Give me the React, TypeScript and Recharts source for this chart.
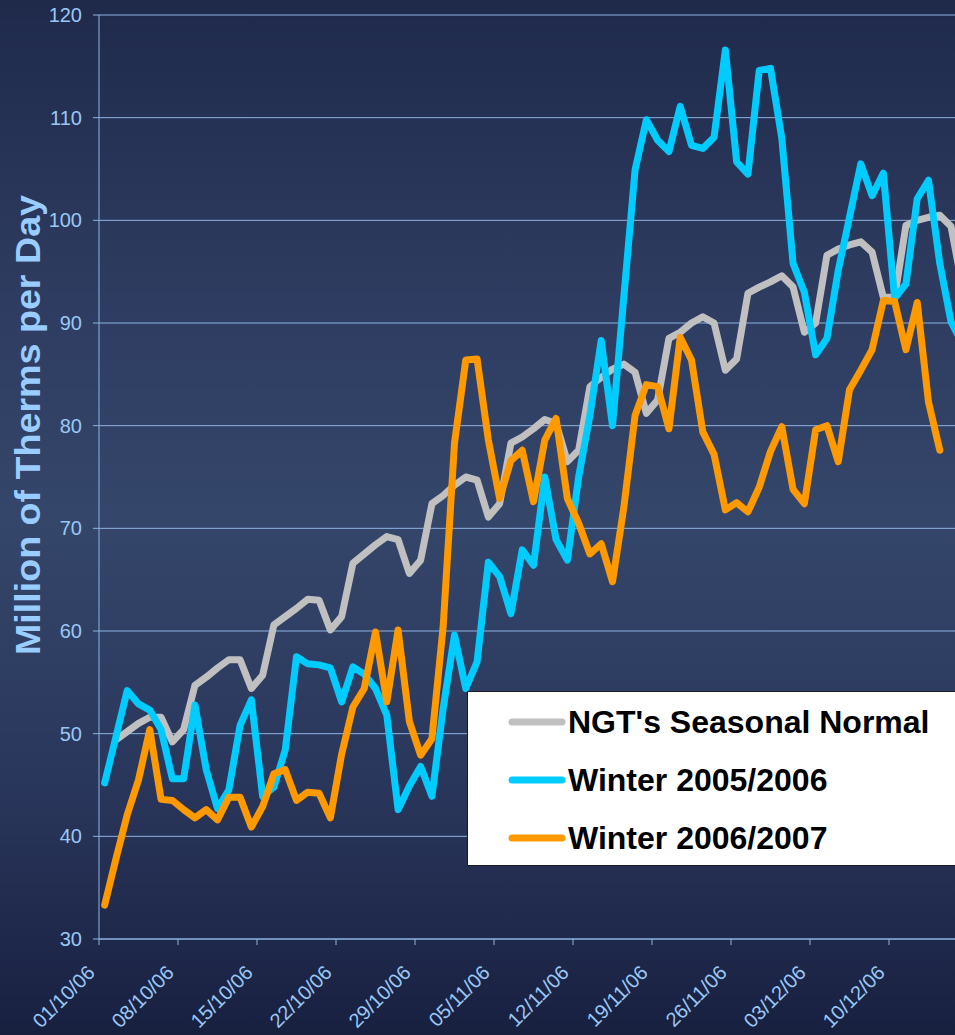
import { LineChart, Line, XAxis, YAxis, CartesianGrid, Legend } from 'recharts';

// tick labels, one per week, first one on the left edge of the axis
const DATE_LABELS = [
  '01/10/06', '08/10/06', '15/10/06', '22/10/06', '29/10/06', '05/11/06',
  '12/11/06', '19/11/06', '26/11/06', '03/12/06', '10/12/06',
];

const Y_TICKS = [30, 40, 50, 60, 70, 80, 90, 100, 110, 120];

// million therms per day, one value per day from 01/10
const SEASONAL_NORMAL: (number | null)[] = [
  null, 49.4, 50.2, 51.0, 51.6, 51.6, 49.2, 50.4, 54.7, 55.5,
  56.4, 57.2, 57.2, 54.4, 55.7, 60.6, 61.4, 62.2, 63.1, 63.0,
  60.1, 61.4, 66.6, 67.5, 68.4, 69.2, 68.9, 65.6, 66.9, 72.4,
  73.2, 74.2, 75.0, 74.7, 71.1, 72.4, 78.3, 78.9, 79.7, 80.6,
  80.2, 76.5, 77.6, 83.8, 84.7, 85.5, 86.0, 85.2, 81.2, 82.5,
  88.5, 89.1, 90.0, 90.6, 90.0, 85.4, 86.5, 92.9, 93.5, 94.0,
  94.6, 93.5, 89.1, 90.0, 96.6, 97.2, 97.6, 97.9, 96.9, 92.5,
  92.5, 99.5, 100.0, 100.3, 100.5, 99.4, 93.5,
];

const WINTER_0506: (number | null)[] = [
  45.2, 49.7, 54.2, 52.9, 52.3, 50.4, 45.6, 45.6, 52.8, 46.5,
  42.7, 44.5, 50.8, 53.3, 43.9, 44.8, 48.4, 57.5, 56.8, 56.7,
  56.4, 53.1, 56.5, 55.8, 54.4, 51.8, 42.6, 44.9, 46.8, 43.9,
  52.5, 59.6, 54.4, 57.0, 66.7, 65.3, 61.7, 67.9, 66.4, 75.0,
  68.9, 66.9, 75.0, 81.0, 88.3, 80.0, 92.5, 104.9, 109.8, 107.8,
  106.7, 111.1, 107.3, 107.0, 108.1, 116.6, 105.7, 104.5, 114.6, 114.8,
  108.0, 95.8, 93.0, 86.9, 88.5, 95.1, 100.3, 105.5, 102.4, 104.6,
  92.4, 93.8, 102.1, 103.9, 95.8, 90.1, 88.0,
];

const WINTER_0607: (number | null)[] = [
  33.3, 37.8, 42.1, 45.5, 50.4, 43.6, 43.5, 42.6, 41.8, 42.6,
  41.6, 43.8, 43.8, 40.9, 42.9, 46.1, 46.5, 43.5, 44.3, 44.2,
  41.8, 48.0, 52.6, 54.4, 59.9, 53.1, 60.1, 51.2, 47.9, 49.5,
  60.5, 78.3, 86.4, 86.5, 78.6, 72.9, 76.6, 77.6, 72.6, 78.6,
  80.7, 72.9, 70.5, 67.5, 68.5, 64.8, 72.0, 81.0, 84.0, 83.8,
  79.7, 88.6, 86.4, 79.4, 77.2, 71.8, 72.5, 71.6, 74.0, 77.5,
  79.9, 73.8, 72.4, 79.6, 80.0, 76.5, 83.5, 85.4, 87.4, 92.2,
  92.1, 87.4, 92.0, 82.3, 77.6,
];

const SERIES = [
  { key: 'normal', name: "NGT's Seasonal Normal", color: '#c0c0c0' },
  { key: 'w0506', name: 'Winter 2005/2006', color: '#00ccff' },
  { key: 'w0607', name: 'Winter 2006/2007', color: '#ff9900' },
];

const AXIS_COLOR = '#8db4e2';
const TEXT_COLOR = '#99c8f5';
const FONT = '"Liberation Sans", Arial, sans-serif';

const chartData = SEASONAL_NORMAL.map((_, day) => ({
  day,
  normal: SEASONAL_NORMAL[day] ?? null,
  w0506: WINTER_0506[day] ?? null,
  w0607: WINTER_0607[day] ?? null,
}));

// axis ticks sit between day slots, like Excel's date axis
const xTicks = DATE_LABELS.map((_, k) => k * 7 - 0.5);

function DateTick(props: any) {
  const { x, y, payload } = props;
  const label = DATE_LABELS[Math.round((payload.value + 0.5) / 7)];
  const tx = x - 3;
  const ty = y + 27;
  return (
    <text
      x={tx}
      y={ty}
      transform={`rotate(-45 ${tx} ${ty})`}
      textAnchor="end"
      fill={TEXT_COLOR}
      fontSize={20}
      fontFamily={FONT}
    >
      {label}
    </text>
  );
}

function AxisTitle() {
  return (
    <text
      x={40}
      y={425}
      transform="rotate(-90 40 425)"
      textAnchor="middle"
      fill="#99ccff"
      fontSize={35}
      fontWeight="bold"
      fontFamily={FONT}
      textLength={460}
      lengthAdjust="spacingAndGlyphs"
    >
      Million of Therms per Day
    </text>
  );
}

function LegendBox(props: any) {
  const items = props.payload || [];
  return (
    <div
      style={{
        width: 520,
        height: 175,
        background: '#ffffff',
        border: '1.5px solid #1a1a1a',
        boxSizing: 'border-box',
        paddingTop: 1,
      }}
    >
      {items.map((item: any) => (
        <div
          key={item.value}
          style={{ display: 'flex', alignItems: 'center', height: 58 }}
        >
          <svg width={60} height={10} style={{ marginLeft: 39 }}>
            <line
              x1={5}
              y1={5}
              x2={55}
              y2={5}
              stroke={item.color}
              strokeWidth={7}
              strokeLinecap="round"
            />
          </svg>
          <span
            style={{
              marginLeft: 1,
              fontFamily: FONT,
              fontWeight: 'bold',
              fontSize: 32,
              color: '#000',
              whiteSpace: 'nowrap',
            }}
          >
            {item.value}
          </span>
        </div>
      ))}
    </div>
  );
}

export default function App() {
  return (
    <div
      style={{
        position: 'absolute',
        left: 0,
        top: 0,
        width: 955,
        height: 1035,
        overflow: 'hidden',
        background:
          'linear-gradient(180deg, #1f2a4b 0%, #2c3a5e 25%, #35466b 50%, #2a375c 75%, #182040 100%)',
      }}
    >
      <LineChart
        width={1000}
        height={1035}
        data={chartData}
        margin={{ top: 15, right: 32, left: 0, bottom: 6 }}
        style={{ fontFamily: FONT }}
      >
        <CartesianGrid vertical={false} stroke={AXIS_COLOR} strokeWidth={1} />
        <XAxis
          type="number"
          dataKey="day"
          domain={[-0.5, 76.5]}
          ticks={xTicks}
          interval={0}
          height={90}
          stroke={AXIS_COLOR}
          tickSize={6}
          tick={<DateTick />}
        />
        <YAxis
          domain={[30, 120]}
          ticks={Y_TICKS}
          width={99}
          stroke={AXIS_COLOR}
          tickSize={6}
          tickMargin={11}
          tick={{ fill: TEXT_COLOR, fontSize: 20, fontFamily: FONT }}
          label={<AxisTitle />}
        />
        <Legend
          layout="vertical"
          align="center"
          verticalAlign="middle"
          content={<LegendBox />}
          wrapperStyle={{ left: 467, top: 691, width: 520 }}
        />
        {SERIES.map((s) => (
          <Line
            key={s.key}
            dataKey={s.key}
            name={s.name}
            stroke={s.color}
            strokeWidth={7}
            strokeLinejoin="round"
            strokeLinecap="round"
            dot={false}
            activeDot={false}
            isAnimationActive={false}
          />
        ))}
      </LineChart>
    </div>
  );
}
